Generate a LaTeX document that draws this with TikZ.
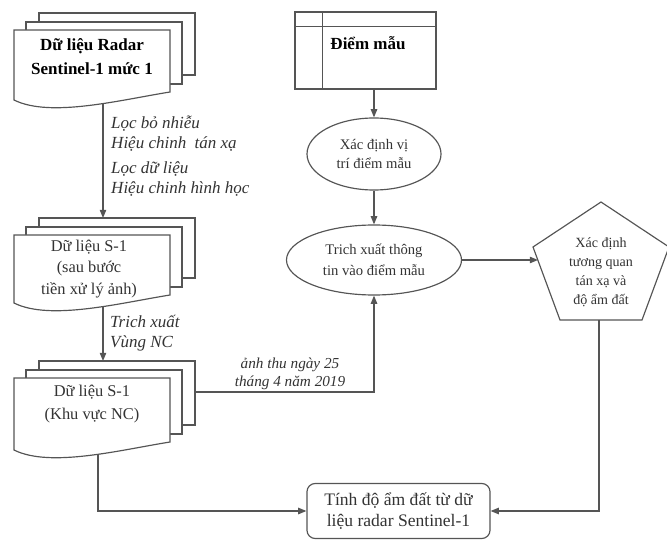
\documentclass[tikz,border=0pt]{standalone}
\usepackage{fontspec}
\setmainfont{Liberation Serif}
\usetikzlibrary{arrows.meta,shapes.geometric,calc}
\definecolor{flowline}{HTML}{555555}
\definecolor{flowtext}{HTML}{333333}

\begin{document}
\begin{tikzpicture}[x=0.03cm, y=-0.03cm, >={Triangle[length=7pt,width=5.5pt]},
  flow/.style={draw=flowline, line width=1pt},
  conn/.style={flowline, line width=1pt, ->},
  txt/.style={text=flowtext, align=center, inner sep=0pt},
  note/.style={text=flowtext, align=left, inner sep=0pt,
    font=\fontsize{14.5}{17}\selectfont\itshape}]
  \useasboundingbox (0,0) rectangle (667,540);

  % ---------------- document stacks (left column) ----------------
  \foreach \dtop/\dh in {30/62, 235/60, 378/64} {
    \foreach \dx/\dy in {25/17, 12/8}
      \filldraw[flow, fill=white] ({14+\dx},{\dtop-\dy}) rectangle ({170+\dx},{\dtop+\dh-\dy});
    \filldraw[flow, fill=white] (14,{\dtop+\dh+8}) -- (14,\dtop) -- (170,\dtop) -- (170,{\dtop+\dh})
      .. controls (120,{\dtop+\dh+8}) and (50,{\dtop+\dh+26}) .. cycle;
  }
  \node[txt, text=black, font=\fontsize{14.5}{20.5}\selectfont\bfseries] (raw) at (92,57)
    {Dữ liệu Radar\\Sentinel-1 mức 1};
  \node[txt, font=\fontsize{14}{18}\selectfont] (pre) at (89,269)
    {Dữ liệu S-1\\(sau bước\\tiền xử lý ảnh)};
  \node[txt, font=\fontsize{14}{19.5}\selectfont] (roi) at (92,404)
    {Dữ liệu S-1\\(Khu vực NC)};
  \coordinate (raw-out) at (103,104);
  \coordinate (pre-in) at (103,218);
  \coordinate (pre-out) at (103,307);
  \coordinate (roi-in) at (103,361);
  \coordinate (roi-out) at (98,454);
  \coordinate (roi-east) at (195,392);

  % ---------------- sample points and ellipses ----------------
  \node[flow, minimum width=4.23cm, minimum height=2.31cm, inner sep=0pt] (samp) at (365.5,50.5) {};
  \draw[flow] ($(samp.north west)+(0,15)$) -- ($(samp.north east)+(0,15)$);
  \draw[flow] ($(samp.north west)+(28,0)$) -- ($(samp.south west)+(28,0)$);
  \node[txt, text=black, font=\fontsize{14.5}{18}\selectfont\bfseries] (samplabel) at (368,43) {Điểm mẫu};

  \node[flow, ellipse, txt, minimum width=4.02cm, minimum height=2.16cm,
    font=\fontsize{12.5}{17}\selectfont] (loc) at (374,154) {Xác định vị\\trí điểm mẫu};
  \node[flow, ellipse, txt, minimum width=5.25cm, minimum height=2.1cm,
    font=\fontsize{12.5}{17.5}\selectfont] (ext) at (374,260) {Trich xuất thông\\tin vào điểm mẫu};

  % ---------------- pentagon ----------------
  \coordinate (p-top) at (601,202);
  \coordinate (p-ur) at (669,247);
  \coordinate (p-lr) at (642,320);
  \coordinate (p-ll) at (560,320);
  \coordinate (p-ul) at (533,247);
  \draw[flow, line join=miter] (p-top) -- (p-ur) -- (p-lr) -- (p-ll) -- (p-ul) -- cycle;
  \node[txt, font=\fontsize{12}{16.2}\selectfont] (corr) at (601,272)
    {Xác định\\tương quan\\tán xạ và\\độ ẩm đất};
  \coordinate (corr-in) at (538,260);
  \coordinate (corr-out) at (599,320);

  % ---------------- result ----------------
  \node[flow, rounded corners=7pt, txt, minimum width=5.49cm, minimum height=1.65cm,
    font=\fontsize{15}{17.5}\selectfont] (soil) at (398.5,511) {Tính độ ẩm đất từ dữ\\liệu radar Sentinel-1};

  % connectors
  \draw[conn] (raw-out) -- (pre-in);
  \draw[conn] (pre-out) -- (roi-in);
  \draw[conn] (samp.south -| loc) -- (loc);
  \draw[conn] (loc) -- (ext);
  \draw[conn] (roi-east) -| (ext.south);
  \draw[conn] (ext.east) -- (corr-in);
  \draw[conn] (roi-out) |- (soil.west);
  \draw[conn] (corr-out) |- (soil.east);

  % step labels
  \node[note, anchor=west] (filt) at (111,134) {Lọc bỏ nhiễu\\Hiệu chinh\ \ tán xạ};
  \node[note, anchor=west] (geo) at (111,179) {Lọc dữ liệu\\Hiệu chinh hình học};
  \node[note, anchor=west] (clip) at (110,333) {Trich xuất\\Vùng NC};
  \node[note, align=center, font=\fontsize{13}{15.5}\selectfont\itshape] (date) at (290,374)
    {ảnh thu ngày 25\\tháng 4 năm 2019};
\end{tikzpicture}
\end{document}
